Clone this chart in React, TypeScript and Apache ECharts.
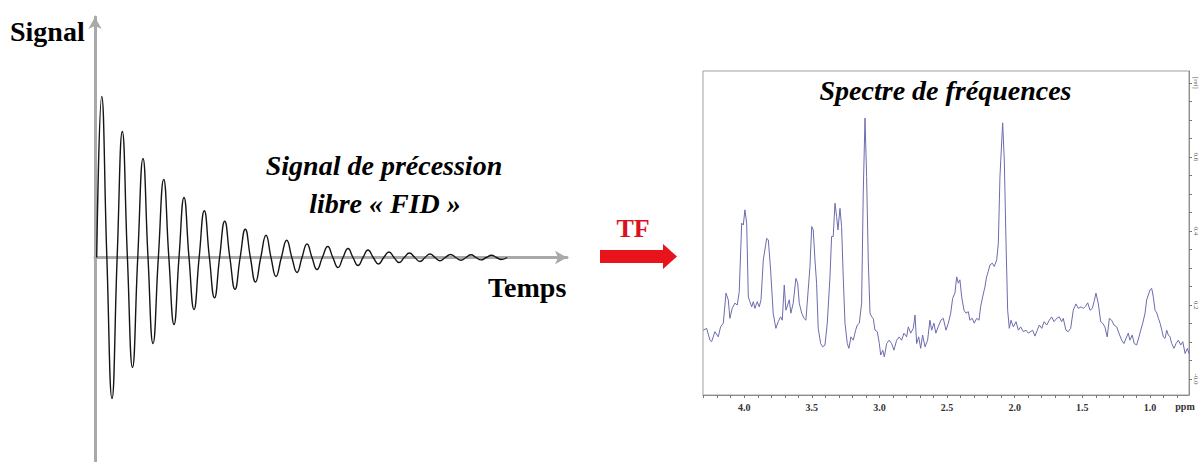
import React, { useEffect, useRef } from "react";
import * as echarts from "echarts";

// ---------- FID (free induction decay) : extrema ----------
const fidStartTime = 1.7;
const fidEndTime = 412;
const fidExtremaTime = [6.7, 17, 27.3, 37.5, 48, 58, 68.7, 79, 89, 99, 109.3, 119.5, 129.7, 140, 150.3, 160.5, 171, 181, 191.7, 202, 212, 222, 232.7, 243, 253, 263, 273, 283.5, 294, 304, 314.5, 325, 335, 345, 355.5, 366, 376, 386, 396.5, 406.5];
const fidExtremaValue = [161, -141, 126, -110, 99, -86, 78, -67, 60, -52, 46.7, -40.3, 36.3, -31.7, 28.3, -24.5, 22.3, -19, 17.3, -15, 13.5, -12, 11, -10, 9, -8, 7.5, -6.5, 5.5, -5, 4.5, -4, 3.5, -3.2, 3, -2.8, 2.7, -2.4, 2.2, -2];

// ---------- Spectrum : ppm / relative intensity ----------
const specPpm = [4.303, 4.278, 4.254, 4.241, 4.217, 4.192, 4.175, 4.155, 4.135, 4.118, 4.106, 4.089, 4.069, 4.052, 4.037, 4.019, 4.007, 3.995, 3.982, 3.970, 3.958, 3.945, 3.933, 3.921, 3.904, 3.889, 3.876, 3.859, 3.834, 3.822, 3.805, 3.786, 3.766, 3.749, 3.731, 3.719, 3.704, 3.692, 3.679, 3.667, 3.655, 3.638, 3.618, 3.605, 3.593, 3.575, 3.558, 3.544, 3.527, 3.514, 3.501, 3.490, 3.477, 3.465, 3.453, 3.435, 3.420, 3.403, 3.386, 3.366, 3.354, 3.342, 3.329, 3.317, 3.307, 3.292, 3.280, 3.268, 3.255, 3.238, 3.226, 3.211, 3.194, 3.176, 3.164, 3.149, 3.132, 3.120, 3.107, 3.095, 3.083, 3.070,
  3.058, 3.046, 3.033, 3.016, 3.001, 2.991, 2.976, 2.964, 2.947, 2.928, 2.910, 2.893, 2.873, 2.854, 2.836, 2.819, 2.799, 2.787, 2.769, 2.750, 2.737, 2.725, 2.710, 2.695, 2.681, 2.663, 2.644, 2.627, 2.614, 2.597, 2.583, 2.566, 2.546, 2.528, 2.508, 2.491, 2.473, 2.459, 2.442, 2.429, 2.417, 2.405, 2.392, 2.375, 2.360, 2.343, 2.331, 2.314, 2.299, 2.281, 2.264, 2.252, 2.237, 2.220, 2.208, 2.196, 2.183, 2.166, 2.151, 2.133, 2.121, 2.109, 2.089, 2.077, 2.064, 2.052, 2.040, 2.027, 2.010, 1.990, 1.973,
  1.956, 1.936, 1.916, 1.899, 1.867, 1.850, 1.833, 1.818, 1.800, 1.783, 1.763, 1.744, 1.727, 1.709, 1.689, 1.670, 1.653, 1.641, 1.621, 1.604, 1.586, 1.567, 1.547, 1.530, 1.510, 1.493, 1.475, 1.460, 1.443, 1.426, 1.413, 1.399, 1.382, 1.364, 1.350, 1.333, 1.316, 1.300, 1.283, 1.266, 1.246, 1.229, 1.209, 1.192, 1.177, 1.160, 1.148, 1.131, 1.116, 1.098, 1.081, 1.068, 1.053, 1.036, 1.024, 1.012, 0.999, 0.987, 0.975, 0.962, 0.949, 0.937, 0.925, 0.912, 0.901, 0.888, 0.876, 0.864, 0.851, 0.839, 0.822, 0.807, 0.790, 0.772, 0.757, 0.740, 0.723, 0.711];
const specValue = [0.132, 0.137, 0.105, 0.101, 0.128, 0.114, 0.141, 0.151, 0.232, 0.214, 0.164, 0.191, 0.205, 0.200, 0.236, 0.421, 0.416, 0.457, 0.421, 0.222, 0.209, 0.195, 0.209, 0.191, 0.209, 0.195, 0.214, 0.322, 0.380, 0.376, 0.295, 0.178, 0.137, 0.155, 0.168, 0.159, 0.254, 0.186, 0.200, 0.214, 0.178, 0.205, 0.272, 0.259, 0.205, 0.178, 0.164, 0.159, 0.241, 0.304, 0.412, 0.403, 0.322, 0.259, 0.137, 0.096, 0.087, 0.092, 0.151, 0.276, 0.385, 0.385, 0.475, 0.439, 0.403, 0.461, 0.412, 0.276, 0.151, 0.096, 0.083, 0.114, 0.105, 0.132, 0.146, 0.151, 0.205, 0.502, 0.705, 0.547, 0.322, 0.178,
  0.168, 0.164, 0.132, 0.128, 0.096, 0.065, 0.078, 0.060, 0.096, 0.105, 0.096, 0.078, 0.105, 0.114, 0.105, 0.124, 0.114, 0.141, 0.124, 0.137, 0.173, 0.096, 0.114, 0.083, 0.119, 0.087, 0.105, 0.159, 0.132, 0.151, 0.124, 0.141, 0.159, 0.164, 0.132, 0.151, 0.178, 0.218, 0.232, 0.276, 0.259, 0.268, 0.222, 0.186, 0.178, 0.182, 0.159, 0.164, 0.151, 0.164, 0.159, 0.195, 0.222, 0.249, 0.276, 0.290, 0.308, 0.313, 0.304, 0.322, 0.367, 0.547, 0.692, 0.592, 0.367, 0.186, 0.137, 0.159, 0.141, 0.155, 0.132,
  0.141, 0.128, 0.132, 0.124, 0.132, 0.116, 0.132, 0.146, 0.137, 0.155, 0.146, 0.159, 0.168, 0.155, 0.164, 0.168, 0.155, 0.164, 0.132, 0.128, 0.137, 0.186, 0.203, 0.191, 0.195, 0.191, 0.197, 0.206, 0.186, 0.191, 0.209, 0.232, 0.205, 0.155, 0.151, 0.141, 0.114, 0.164, 0.159, 0.146, 0.141, 0.124, 0.105, 0.096, 0.110, 0.124, 0.105, 0.119, 0.096, 0.092, 0.114, 0.132, 0.151, 0.178, 0.214, 0.227, 0.241, 0.245, 0.222, 0.186, 0.178, 0.164, 0.151, 0.132, 0.114, 0.110, 0.132, 0.119, 0.114, 0.096, 0.083, 0.096, 0.105, 0.092, 0.101, 0.069, 0.083, 0.069];

// ---------- Axis ticks / labels ----------
const ppmLabelValues = [1.0, 1.5, 2.0, 2.5, 3.0, 3.5, 4.0];
const ppmTickValues = [0.8, 0.9, 1.0, 1.1, 1.2, 1.3, 1.4, 1.5, 1.6, 1.7, 1.8, 1.9, 2.0, 2.1, 2.2, 2.3, 2.4, 2.5, 2.6, 2.7, 2.8, 2.9, 3.0, 3.1, 3.2, 3.3, 3.4, 3.5, 3.6, 3.7, 3.8, 3.9, 4.0, 4.1, 4.2, 4.3];
const relLabelValues = [0, 0.2, 0.4, 0.6, 0.8];
const relLabelTexts = ["-0.0", "0.2", "0.4", "0.6", "[rel]"];
const relTickValues = [0, 0.05, 0.1, 0.15, 0.2, 0.25, 0.3, 0.35, 0.4, 0.45, 0.5, 0.55, 0.6, 0.65, 0.7, 0.75, 0.8];

const SERIF = '"Liberation Serif", "Times New Roman", serif';

export default function App() {
  const ref = useRef<HTMLDivElement>(null);

  useEffect(() => {
    if (!ref.current) return;
    const chart = echarts.init(ref.current, null, { renderer: "svg" });

    const fidData: number[][] = [[fidStartTime, 0]];
    for (let i = 0; i < fidExtremaTime.length; i++) {
      fidData.push([fidExtremaTime[i], fidExtremaValue[i]]);
      const next = i + 1 < fidExtremaTime.length ? fidExtremaTime[i + 1] : fidEndTime;
      if (i + 1 < fidExtremaTime.length) fidData.push([(fidExtremaTime[i] + next) / 2, 0]);
    }
    fidData.push([fidEndTime, 0]);

    const specData = specPpm.map((p, i) => [p, specValue[i]]);

    const grayAxis = {
      show: true,
      onZero: true,
      symbol: ["none", "arrow"],
      symbolSize: [10, 12],
      lineStyle: { color: "#a9a9a9", width: 3 },
    };

    chart.setOption({
      animation: false,
      backgroundColor: "#ffffff",
      grid: [
        { left: 95, top: 17, width: 472, height: 445, containLabel: false, outerBoundsMode: "none" },
        { left: 703, top: 71, width: 486, height: 324, show: true, borderColor: "#a0a0a0", borderWidth: 1, backgroundColor: "transparent", containLabel: false, outerBoundsMode: "none" },
      ],
      xAxis: [
        {
          gridIndex: 0, type: "value", min: 0, max: 472,
          axisLine: grayAxis, axisTick: { show: false }, axisLabel: { show: false }, splitLine: { show: false },
        },
        {
          gridIndex: 1, type: "value", min: 0.711, max: 4.305, inverse: true,
          axisLine: { show: true, onZero: false, lineStyle: { color: "#8c8c8c", width: 1 } },
          axisTick: { show: true, customValues: ppmTickValues, length: 3, lineStyle: { color: "#777" } },
          axisLabel: {
            show: true, customValues: ppmLabelValues, formatter: (v: number) => v.toFixed(1),
            fontFamily: SERIF, fontWeight: "bold", fontSize: 10, color: "#333", margin: 7,
          },
          splitLine: { show: false },
        },
      ],
      yAxis: [
        {
          gridIndex: 0, type: "value", min: -204.5, max: 240.5,
          axisLine: grayAxis, axisTick: { show: false }, axisLabel: { show: false }, splitLine: { show: false },
        },
        {
          gridIndex: 1, type: "value", position: "right", min: -0.043, max: 0.832,
          axisLine: { show: true, onZero: false, lineStyle: { color: "#8c8c8c", width: 1 } },
          axisTick: { show: true, customValues: relTickValues, length: 3, lineStyle: { color: "#777" } },
          axisLabel: {
            show: true, customValues: relLabelValues, rotate: -90, margin: 3,
            formatter: (v: number) => {
              const k = relLabelValues.findIndex((x) => Math.abs(x - v) < 1e-6);
              return k >= 0 ? relLabelTexts[k] : "";
            },
            fontFamily: SERIF, fontSize: 7, color: "#555",
          },
          splitLine: { show: false },
        },
      ],
      series: [
        {
          type: "line", xAxisIndex: 0, yAxisIndex: 0, data: fidData, smooth: 0.5,
          showSymbol: false, symbol: "none", lineStyle: { color: "#151515", width: 1.4 }, z: 5,
        },
        {
          type: "line", xAxisIndex: 1, yAxisIndex: 1, data: specData, smooth: false,
          showSymbol: false, symbol: "none", lineStyle: { color: "#6c6cae", width: 1 }, clip: true,
        },
      ],
      graphic: [
        { type: "text", x: 10, y: 31.5, style: { text: "Signal", font: `bold 28px ${SERIF}`, fill: "#000", align: "left", verticalAlign: "middle" } },
        { type: "text", x: 384, y: 165.5, style: { text: "Signal de précession", font: `italic bold 28px ${SERIF}`, fill: "#000", align: "center", verticalAlign: "middle" } },
        { type: "text", x: 385, y: 203.5, style: { text: "libre « FID »", font: `italic bold 28px ${SERIF}`, fill: "#000", align: "center", verticalAlign: "middle" } },
        { type: "text", x: 488, y: 287.5, style: { text: "Temps", font: `bold 28px ${SERIF}`, fill: "#000", align: "left", verticalAlign: "middle" } },
        { type: "text", x: 633, y: 228, style: { text: "TF", font: `bold 26px ${SERIF}`, fill: "#d9121b", align: "center", verticalAlign: "middle" } },
        {
          type: "polygon",
          shape: { points: [[600, 250], [663, 250], [663, 244], [677, 256.5], [663, 269], [663, 263], [600, 263]] },
          style: { fill: "#e8131b" },
        },
        { type: "text", x: 945.5, y: 90.5, style: { text: "Spectre de fréquences", font: `italic bold 28px ${SERIF}`, fill: "#000", align: "center", verticalAlign: "middle" } },
        { type: "text", x: 1185, y: 406, style: { text: "ppm", font: `bold 10px ${SERIF}`, fill: "#333", align: "center", verticalAlign: "middle" } },
      ],
    });

    return () => chart.dispose();
  }, []);

  return (
    <div
      ref={ref}
      style={{ position: "fixed", left: 0, top: 0, width: 1199, height: 462, background: "#fff" }}
    />
  );
}
